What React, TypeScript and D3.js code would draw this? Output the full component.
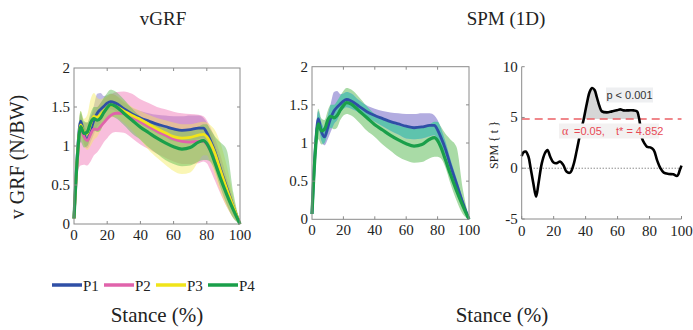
import React from 'react';
import * as d3 from 'd3';

const stance = [0, 2, 4, 6, 8, 10, 12, 14, 16, 18, 20, 22, 25, 30, 35, 40, 45, 50, 55, 60, 65, 70, 75, 78, 80, 82, 85, 88, 92, 96, 100];

const p1Mean = [0.07, 0.9, 1.32, 1.15, 1.08, 1.2, 1.33, 1.42, 1.47, 1.51, 1.55, 1.57, 1.55, 1.48, 1.41, 1.36, 1.32, 1.28, 1.25, 1.22, 1.2, 1.21, 1.23, 1.23, 1.17, 1.08, 0.92, 0.72, 0.47, 0.22, 0.0];
const p1Upper = [0.09, 1.0, 1.42, 1.27, 1.2, 1.35, 1.52, 1.67, 1.68, 1.64, 1.65, 1.67, 1.65, 1.56, 1.49, 1.45, 1.42, 1.4, 1.39, 1.38, 1.38, 1.39, 1.39, 1.36, 1.3, 1.2, 1.02, 0.8, 0.54, 0.27, 0.01];
const p1Lower = [0.05, 0.8, 1.22, 1.03, 0.97, 1.05, 1.15, 1.25, 1.3, 1.4, 1.45, 1.47, 1.45, 1.4, 1.34, 1.28, 1.22, 1.16, 1.11, 1.06, 1.05, 1.06, 1.09, 1.1, 1.05, 0.98, 0.84, 0.65, 0.41, 0.18, 0.0];

const p2Mean = [0.07, 0.8, 1.22, 1.12, 1.07, 1.15, 1.22, 1.21, 1.25, 1.3, 1.35, 1.39, 1.42, 1.42, 1.37, 1.31, 1.25, 1.19, 1.14, 1.09, 1.06, 1.05, 1.06, 1.06, 1.02, 0.95, 0.82, 0.65, 0.42, 0.2, 0.0];
const p2Upper = [0.09, 0.95, 1.35, 1.3, 1.3, 1.38, 1.45, 1.5, 1.55, 1.6, 1.63, 1.66, 1.69, 1.7, 1.67, 1.6, 1.55, 1.5, 1.47, 1.44, 1.42, 1.41, 1.4, 1.38, 1.33, 1.25, 1.1, 0.9, 0.6, 0.3, 0.01];
const p2Lower = [0.05, 0.65, 0.75, 0.76, 0.75, 0.8, 0.88, 0.92, 0.98, 1.05, 1.1, 1.15, 1.18, 1.17, 1.1, 1.02, 0.96, 0.9, 0.85, 0.8, 0.77, 0.77, 0.78, 0.8, 0.78, 0.7, 0.55, 0.4, 0.22, 0.08, 0.0];

const p3Mean = [0.07, 0.85, 1.27, 1.18, 1.16, 1.28, 1.38, 1.37, 1.4, 1.45, 1.49, 1.52, 1.51, 1.45, 1.39, 1.34, 1.28, 1.22, 1.17, 1.12, 1.1, 1.11, 1.14, 1.15, 1.12, 1.05, 0.9, 0.7, 0.45, 0.22, 0.0];
const p3Upper = [0.09, 1.0, 1.45, 1.35, 1.4, 1.6, 1.68, 1.62, 1.6, 1.62, 1.65, 1.67, 1.65, 1.58, 1.5, 1.45, 1.4, 1.36, 1.33, 1.3, 1.28, 1.28, 1.3, 1.31, 1.3, 1.27, 1.2, 1.05, 0.75, 0.35, 0.01];
const p3Lower = [0.05, 0.7, 1.1, 1.0, 0.95, 1.0, 1.08, 1.12, 1.2, 1.28, 1.33, 1.37, 1.37, 1.3, 1.2, 1.08, 0.95, 0.85, 0.76, 0.68, 0.64, 0.66, 0.8, 0.88, 0.88, 0.8, 0.62, 0.42, 0.22, 0.08, 0.0];

const p4Mean = [0.07, 0.85, 1.25, 1.16, 1.18, 1.3, 1.35, 1.33, 1.36, 1.43, 1.49, 1.53, 1.51, 1.42, 1.33, 1.24, 1.17, 1.1, 1.04, 0.99, 0.96, 0.98, 1.05, 1.07, 1.03, 0.95, 0.78, 0.6, 0.38, 0.18, 0.0];
const p4Upper = [0.09, 1.0, 1.45, 1.32, 1.3, 1.42, 1.5, 1.5, 1.55, 1.62, 1.68, 1.72, 1.7, 1.6, 1.48, 1.38, 1.32, 1.27, 1.23, 1.21, 1.2, 1.21, 1.25, 1.28, 1.28, 1.22, 1.12, 1.05, 0.95, 0.4, 0.01];
const p4Lower = [0.05, 0.7, 1.05, 0.98, 1.0, 1.12, 1.2, 1.18, 1.2, 1.3, 1.36, 1.38, 1.36, 1.27, 1.16, 1.08, 0.98, 0.9, 0.82, 0.77, 0.74, 0.75, 0.8, 0.82, 0.82, 0.8, 0.68, 0.48, 0.25, 0.07, 0.0];

const spmX = [0, 1, 2.5, 4.2, 5.6, 7.3, 9, 10.5, 12.6, 14.6, 16.1, 17.8, 19.9, 22, 24, 26, 28, 30.3, 32.4, 34.5, 36.6, 38.7, 40.8, 42.5, 44, 45.6, 47, 48.7, 50.2, 53.3, 56.5, 59.6, 61.7, 63.8, 67, 70, 72.2, 73.2, 74.3, 75.3, 76.8, 78.5, 80.5, 82.6, 84.7, 86.8, 88.9, 92, 94.8, 97.3, 99, 100];
const spmT = [1.2, 1.55, 1.64, 1.15, 0, -1.5, -2.8, -1.5, 0.5, 1.5, 1.8, 1.15, 0.56, 0.5, 0.66, 0.33, -0.33, -0.43, 0.33, 1.8, 3.4, 4.75, 6.4, 7.5, 7.9, 7.7, 7.0, 6.1, 5.6, 5.5, 5.6, 5.7, 5.8, 5.7, 5.7, 5.7, 5.6, 5.1, 4.1, 2.95, 2.45, 2.1, 2.05, 1.8, 0.8, 0, -0.43, -0.56, -0.6, -0.75, -0.15, 0.26];
const tCrit = 4.852;

const xTicks = [0, 20, 40, 60, 80, 100];
const vgrfTicks = [0, 0.5, 1, 1.5, 2];
const spmTicks = [-5, 0, 5, 10];
const seriesNames = ['P1', 'P2', 'P3', 'P4'];
const lineColors = ['#2f4fa6', '#e063ab', '#f0e41a', '#1a9f4a'];
const bandColors = ['#7468c6', '#f06eb2', '#f4ec5a', '#58ba50'];

const SERIF = '"Liberation Serif", "DejaVu Serif", serif';
const SANS = '"Liberation Sans", Arial, sans-serif';
const AXIS = '#8a8a8a';

const idx = d3.range(stance.length);

type Series = { mean: number[]; upper: number[]; lower: number[] };
const allSeries: Series[] = [
  { mean: p1Mean, upper: p1Upper, lower: p1Lower },
  { mean: p2Mean, upper: p2Upper, lower: p2Lower },
  { mean: p3Mean, upper: p3Upper, lower: p3Lower },
  { mean: p4Mean, upper: p4Upper, lower: p4Lower },
];

function BoxPanel(props: { x0: number; x1: number; yTop: number; yBot: number; which: number[]; mode: 'alpha' | 'opaque'; id: string }) {
  const { x0, x1, yTop, yBot, which, mode, id } = props;
  const x = d3.scaleLinear().domain([0, 100]).range([x0, x1]);
  const y = d3.scaleLinear().domain([0, 2]).range([yBot, yTop]);
  const areaOf = (s: Series) =>
    d3.area<number>().x((i) => x(stance[i])).y0((i) => y(s.lower[i])).y1((i) => y(s.upper[i])).curve(d3.curveMonotoneX)(idx) || '';
  const lineOf = (s: Series) =>
    d3.line<number>().x((i) => x(stance[i])).y((i) => y(s.mean[i])).curve(d3.curveMonotoneX)(idx) || '';
  const tl = 3;
  return (
    <g>
      {mode === 'alpha' &&
        which.map((k) => (
          <path key={'b' + k} d={areaOf(allSeries[k])} fill={bandColors[k]} fillOpacity={0.45} stroke="none" />
        ))}
      {mode === 'opaque' && (
        <g>
          <defs>
            <clipPath id={id + 'clip'}>
              <path d={areaOf(allSeries[3])} />
            </clipPath>
          </defs>
          <path d={areaOf(allSeries[3])} fill="#a9dba6" />
          <path d={areaOf(allSeries[0])} fill="#b2ace0" />
          <path d={areaOf(allSeries[0])} fill="#5ec3ad" clipPath={`url(#${id}clip)`} />
        </g>
      )}
      {which.map((k) => (
        <path key={'l' + k} d={lineOf(allSeries[k])} fill="none" stroke={lineColors[k]} strokeWidth={k === 3 ? 3.2 : 2.8} strokeLinejoin="round" />
      ))}
      <rect x={x0} y={yTop} width={x1 - x0} height={yBot - yTop} fill="none" stroke={AXIS} strokeWidth={1} />
      {xTicks.slice(1, -1).map((t) => (
        <g key={'xt' + t}>
          <line x1={x(t)} x2={x(t)} y1={yBot} y2={yBot - tl} stroke={AXIS} />
          <line x1={x(t)} x2={x(t)} y1={yTop} y2={yTop + tl} stroke={AXIS} />
        </g>
      ))}
      {vgrfTicks.slice(1, -1).map((t) => (
        <g key={'yt' + t}>
          <line x1={x0} x2={x0 + tl} y1={y(t)} y2={y(t)} stroke={AXIS} />
          <line x1={x1} x2={x1 - tl} y1={y(t)} y2={y(t)} stroke={AXIS} />
        </g>
      ))}
      {xTicks.map((t) => (
        <text key={'xl' + t} x={x(t)} y={yBot + 16} textAnchor="middle" fontFamily={SERIF} fontSize={15} fill="#222">
          {t}
        </text>
      ))}
      {vgrfTicks.map((t) => (
        <text key={'yl' + t} x={x0 - 4} y={y(t) + 5} textAnchor="end" fontFamily={SERIF} fontSize={15} fill="#222">
          {t}
        </text>
      ))}
    </g>
  );
}

function SpmPanel() {
  const x0 = 521.7, x1 = 681.5;
  const x = d3.scaleLinear().domain([0, 100]).range([x0, x1]);
  const y = d3.scaleLinear().domain([-5, 10]).range([219, 66.7]);
  const sIdx = d3.range(spmX.length);
  const curve = d3.line<number>().x((i) => x(spmX[i])).y((i) => y(spmT[i])).curve(d3.curveCatmullRom)(sIdx) || '';
  const shade = d3.area<number>().x((i) => x(spmX[i])).y0(y(tCrit)).y1((i) => y(spmT[i])).curve(d3.curveCatmullRom)(sIdx) || '';
  const yc = y(tCrit);
  const red = '#e84a55';
  return (
    <g>
      <defs>
        <clipPath id="spmAbove">
          <rect x={x0} y={y(10) - 10} width={x1 - x0} height={yc - y(10) + 10} />
        </clipPath>
      </defs>
      <path d={shade} fill="#d6d6d6" clipPath="url(#spmAbove)" />
      <line x1={x0} x2={x1} y1={y(0)} y2={y(0)} stroke="#555" strokeWidth={1} strokeDasharray="1,2" />
      <line x1={x0} x2={x1} y1={yc} y2={yc} stroke="#ec6066" strokeWidth={1.5} strokeDasharray="8,5" />
      <path d={curve} fill="none" stroke="#000" strokeWidth={2.6} strokeLinejoin="round" />
      <line x1={x0} x2={x0} y1={y(10)} y2={y(-5)} stroke={AXIS} />
      <line x1={x0} x2={x1} y1={y(-5)} y2={y(-5)} stroke={AXIS} />
      {spmTicks.map((t) => (
        <g key={'st' + t}>
          <line x1={x0} x2={x0 + 3} y1={y(t)} y2={y(t)} stroke={AXIS} />
          <text x={x0 - 4} y={y(t) + 5} textAnchor="end" fontFamily={SERIF} fontSize={15} fill="#222">
            {t}
          </text>
        </g>
      ))}
      {xTicks.map((t) => (
        <g key={'sx' + t}>
          <line x1={x(t)} x2={x(t)} y1={y(-5)} y2={y(-5) - 3} stroke={AXIS} />
          <text x={x(t)} y={y(-5) + 17} textAnchor="middle" fontFamily={SERIF} fontSize={15} fill="#222">
            {t}
          </text>
        </g>
      ))}
      <text transform={`translate(498,145) rotate(-90)`} textAnchor="middle" fontFamily={SERIF} fontSize={12} fill="#222">
        SPM {'{ t }'}
      </text>
      <rect x={606} y={87.5} width={47} height={15} fill="#eeeff1" />
      <text x={629.5} y={98.5} textAnchor="middle" fontFamily={SANS} fontSize={11} fill="#333">
        p &lt; 0.001
      </text>
      <rect x={559} y={123.5} width={100} height={15} fill="#f3f1f1" />
      <text x={562} y={134.5} fontFamily={SERIF} fontSize={12} fill={red}>
        α
      </text>
      <text x={574} y={134.5} fontFamily={SANS} fontSize={11} fill={red}>
        =0.05,
      </text>
      <text x={616} y={134.5} fontFamily={SANS} fontSize={11} fill={red}>
        t* = 4.852
      </text>
    </g>
  );
}

export default function App() {
  return (
    <svg width={693} height={330} style={{ position: 'absolute', left: 0, top: 0, background: '#fff' }}>
      <rect x={0} y={0} width={693} height={330} fill="#fff" />
      <text x={163} y={25} textAnchor="middle" fontFamily={SERIF} fontSize={19} fill="#222">
        vGRF
      </text>
      <text x={506} y={25} textAnchor="middle" fontFamily={SERIF} fontSize={19} fill="#222">
        SPM (1D)
      </text>
      <text transform="translate(24,157) rotate(-90)" textAnchor="middle" fontFamily={SERIF} fontSize={20} fill="#222">
        v GRF (N/BW)
      </text>
      <BoxPanel x0={74} x1={240} yTop={68} yBot={224} which={[0, 1, 2, 3]} mode="alpha" id="p1" />
      <BoxPanel x0={312} x1={469} yTop={66.7} yBot={219.3} which={[0, 3]} mode="opaque" id="p2" />
      <SpmPanel />
      {seriesNames.map((n, k) => {
        const lx = 52 + k * 52;
        return (
          <g key={n}>
            <line x1={lx} x2={lx + 30} y1={285} y2={285} stroke={lineColors[k]} strokeWidth={3.5} />
            <text x={lx + 31} y={291} fontFamily={SERIF} fontSize={15} fill="#222">
              {n}
            </text>
          </g>
        );
      })}
      <text x={157} y={322} textAnchor="middle" fontFamily={SERIF} fontSize={21} fill="#222">
        Stance (%)
      </text>
      <text x={502} y={322} textAnchor="middle" fontFamily={SERIF} fontSize={21} fill="#222">
        Stance (%)
      </text>
    </svg>
  );
}
